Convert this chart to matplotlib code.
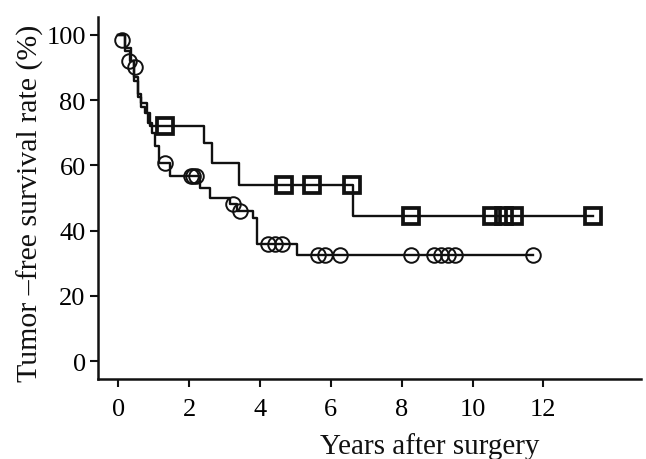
import matplotlib
matplotlib.use("Agg")
import matplotlib.pyplot as plt

# Group with square censor marks
sq_times = [0, 0.2, 0.35, 0.45, 0.55, 0.65, 0.8, 0.9, 2.43, 2.66, 3.42, 6.64, 13.4]
sq_surv = [100, 96, 92, 87, 82, 79, 76, 72, 66.8, 60.6, 54, 44.6, 44.6]
sq_cens_x = [1.33, 4.69, 5.48, 6.6, 8.25, 10.56, 10.88, 11.16, 13.4]
sq_cens_y = [72, 54, 54, 54, 44.6, 44.6, 44.6, 44.6, 44.6]

# Group with circle censor marks
ci_times = [0, 0.2, 0.34, 0.45, 0.55, 0.65, 0.75, 0.85, 0.95, 1.05, 1.15, 1.47,
            2.3, 2.6, 3.15, 3.35, 3.8, 3.93, 5.06, 11.7]
ci_surv = [100, 95, 92, 86, 81, 78, 76, 73, 70, 66, 60.6, 56.6,
           53, 50, 48, 46, 43.7, 36, 32.6, 32.6]
ci_cens_x = [0.1, 0.3, 0.48, 1.33, 2.05, 2.12, 2.2, 3.25, 3.45, 4.24, 4.43, 4.63,
             5.65, 5.85, 6.25, 8.25, 8.9, 9.1, 9.3, 9.5, 11.7]
ci_cens_y = [98.5, 92, 90, 60.6, 56.6, 56.6, 56.6, 48, 46, 36, 36, 36,
             32.6, 32.6, 32.6, 32.6, 32.6, 32.6, 32.6, 32.6, 32.6]

xticks = [0, 2, 4, 6, 8, 10, 12]
yticks = [0, 20, 40, 60, 80, 100]

plt.rcParams['font.family'] = ['Liberation Serif', 'DejaVu Serif']

fig = plt.figure(figsize=(6.46, 4.6), dpi=100)
ax = fig.add_axes([0.152, 0.174, 0.84, 0.787])

ax.step(sq_times, sq_surv, where='post', color='#111111', lw=1.7)
ax.step(ci_times, ci_surv, where='post', color='#111111', lw=1.7)
ax.plot(sq_cens_x, sq_cens_y, 's', ms=11, mfc='none', mec='#111111', mew=2.7)
ax.plot(ci_cens_x, ci_cens_y, 'o', ms=10.5, mfc='none', mec='#111111', mew=1.4)

ax.set_xlim(-0.565, 14.75)
ax.set_ylim(-5.5, 105.5)
ax.set_xticks(xticks)
ax.set_yticks(yticks)
ax.tick_params(labelsize=19, width=1.5, length=6, direction='out', color='#111111')
ax.tick_params(axis='y', pad=3)
ax.tick_params(axis='x', pad=8)

for side in ['top', 'right']:
    ax.spines[side].set_visible(False)
for side in ['left', 'bottom']:
    ax.spines[side].set_linewidth(1.8)
    ax.spines[side].set_color('#111111')

fig.text(430 / 646, 1 - 447 / 460, 'Years after surgery', fontsize=21,
         ha='center', va='center', color='#111111')
fig.text(30 / 646, 1 - 203 / 460, 'Tumor \u2013free survival rate (%)', fontsize=21.5,
         ha='center', va='center', rotation=90, color='#111111')

fig.savefig('out.png', dpi=100)
